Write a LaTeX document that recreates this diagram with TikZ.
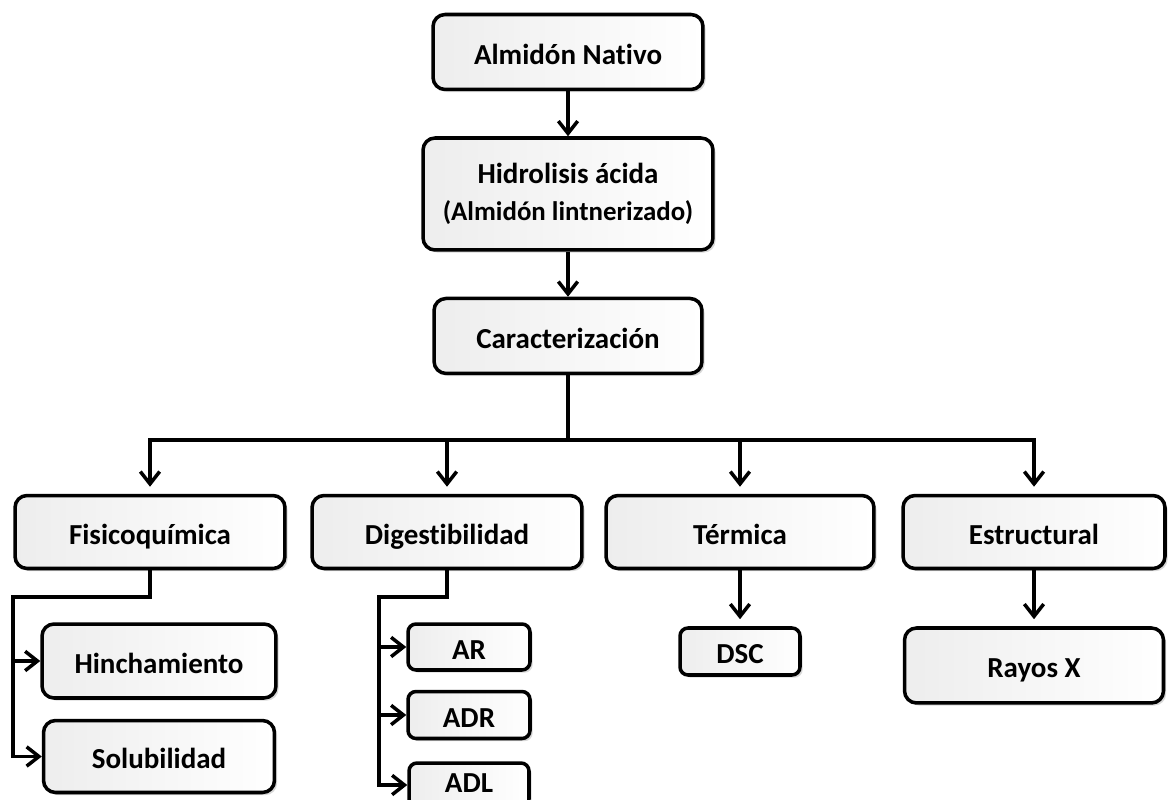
\documentclass[tikz,border=0pt]{standalone}
\usepackage{fontspec}
\setmainfont{Carlito}[Ligatures={NoCommon}]
\usetikzlibrary{arrows.meta,positioning,shadows}

\begin{document}
\begin{tikzpicture}[x=0.02cm,y=-0.02cm,>={Straight Barb[length=7pt,width=11pt]},line width=2pt]
        \tikzset{rblock/.style={draw, rectangle, rounded corners=0.24cm, minimum width=5.4cm, minimum height=1.46cm, inner sep=2pt,
                font=\fontsize{16.5}{21}\selectfont\bfseries, text height=15pt, text depth=1pt,
                left color=gray!14, middle color=white, right color=white,
                drop shadow={shadow xshift=1.5pt, shadow yshift=-1.5pt, opacity=0.3}},
        sblock/.style={rblock, rounded corners=0.16cm, minimum width=2.44cm, minimum height=0.92cm},
        }
        \fill[white] (0,0) rectangle (1168,800);
        \useasboundingbox (0,0) rectangle (1168,800);

        \node [rblock, minimum height=1.5cm] (nativo) at (568,52) {Almidón Nativo};
        \node [rblock, below=0.9cm of nativo, align=center, minimum width=5.8cm, minimum height=2.24cm, text height=, text depth=] (hidro) {Hidrolisis ácida\\{\fontsize{15.3}{21}\selectfont (Almidón lintnerizado)}};
        \node [rblock, below=0.9cm of hidro, minimum width=5.36cm, minimum height=1.5cm] (carac) {Caracterización};
        \node [rblock] (fisico) at (150,532) {Fisicoquímica};
        \node [rblock] (digest) at (447,532) {Digestibilidad};
        \node [rblock, minimum width=5.36cm] (termica) at (740,532) {Térmica};
        \node [rblock, minimum width=5.24cm] (estruct) at (1034,532) {Estructural};
        \node [rblock, minimum width=4.68cm, minimum height=1.48cm] (hinch) at (159,661) {Hinchamiento};
        \node [rblock, below=0.38cm of hinch, minimum width=4.62cm, minimum height=1.44cm] (solub) {Solubilidad};
        \node [sblock] (ar) at (469,647) {AR};
        \node [sblock, below=0.36cm of ar, minimum height=0.94cm] (adr) {ADR};
        \node [sblock, below=0.42cm of adr, minimum width=2.4cm, minimum height=0.88cm, text height=11pt, text depth=3pt] (adl) {ADL};
        \node [sblock, below=1.12cm of termica, minimum width=2.4cm, minimum height=0.94cm] (dsc) {DSC};
        \node [rblock, below=1.12cm of estruct, minimum width=5.18cm, minimum height=1.5cm] (rayos) {Rayos X};
        \coordinate [below=1.3cm of carac] (hub);  %% branching point
        \coordinate (fbus) at (13,597);   %% left rail of Fisicoquimica
        \coordinate (dbus) at (379,597);  %% left rail of Digestibilidad

%% paths
        \draw[->] (nativo) -- (hidro);
        \draw[->] (hidro) -- (carac);
        \draw (carac) -- (hub);
        \draw[->,shorten >=4pt] (hub) -| (fisico);
        \draw[->,shorten >=4pt] (hub) -| (digest);
        \draw[->,shorten >=4pt] (hub) -| (termica);
        \draw[->,shorten >=4pt] (hub) -| (estruct);
        \draw[->,shorten >=4pt] (termica) -- (dsc);
        \draw[->,shorten >=4pt] (estruct) -- (rayos);
        \draw[->] (fisico.south) |- (fbus) |- (solub.west);
        \draw[->] (fbus |- hinch.west) -- (hinch.west);
        \draw[->] (digest.south) |- (dbus) |- (adl.west);
        \draw[->] (dbus |- ar.west) -- (ar.west);
        \draw[->] (dbus |- adr.west) -- (adr.west);
\end{tikzpicture}
\end{document}
